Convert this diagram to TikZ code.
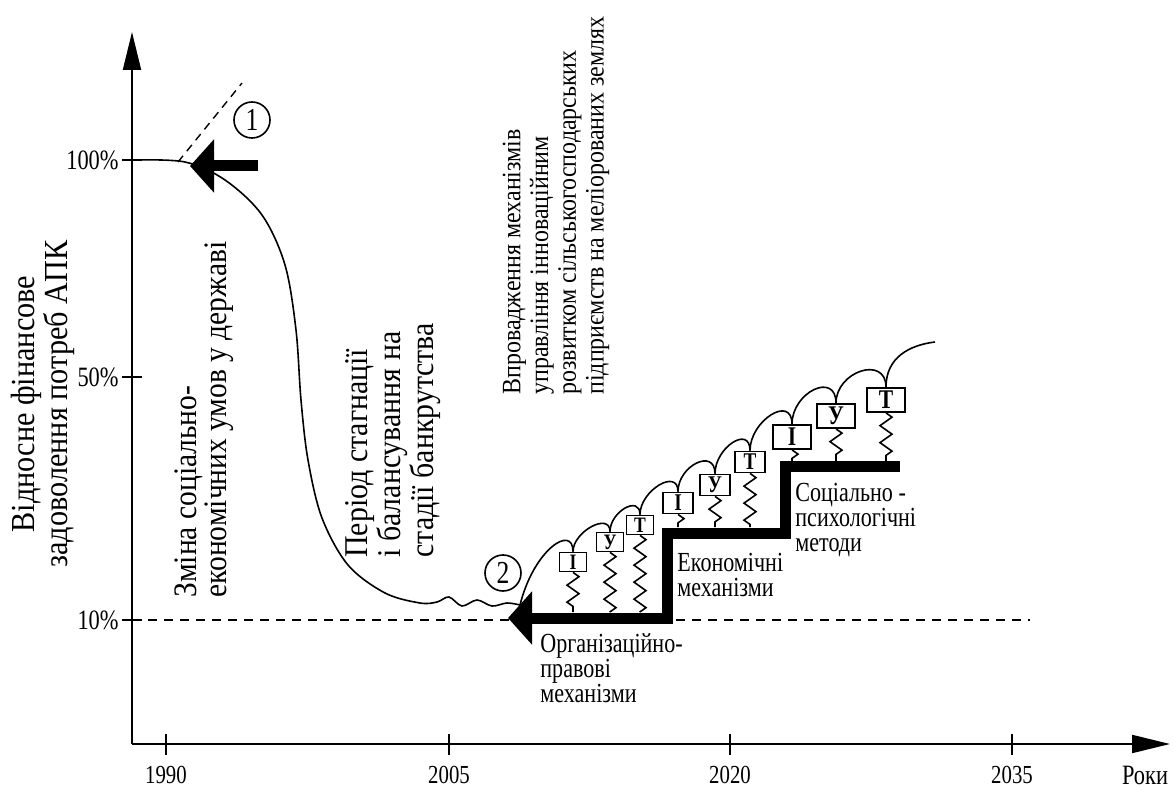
\documentclass[tikz,border=0pt]{standalone}
\usepackage{fontspec}
\setmainfont{Liberation Serif}
\newfontfamily\narrowfont[FakeStretch=0.8]{Liberation Serif}
\newfontfamily\upfont[FakeStretch=0.9]{Liberation Serif}
\usetikzlibrary{arrows.meta,decorations.pathmorphing}

\tikzset{
  axis/.style={line width=1pt, -{Triangle[length=19pt,width=9pt]}},
  bar/.style={line width=5.5pt, -{Triangle[length=12pt,width=26pt]}},
  curve/.style={line width=0.8pt},
  tbox/.style={draw, fill=white, line width=0.9pt, inner sep=0pt},
  smallbox/.style={tbox, minimum width=13.5pt, minimum height=9.5pt, font=\narrowfont\bfseries\fontsize{11}{11}\selectfont},
  midbox/.style={tbox, minimum width=15pt, minimum height=10.5pt, font=\narrowfont\bfseries\fontsize{12}{12}\selectfont},
  bigbox/.style={tbox, minimum width=19pt, minimum height=12pt, font=\narrowfont\bfseries\fontsize{13.5}{13.5}\selectfont},
  spring/.style={decorate, decoration={zigzag, segment length=8.5pt, amplitude=3pt}, line width=0.8pt},
  vtext/.style={rotate=90, anchor=west, align=left, inner sep=0pt},
  htext/.style={anchor=north west, align=left, inner sep=0pt, font=\narrowfont\fontsize{13.8}{12.5}\selectfont},
  num/.style={circle, draw, line width=0.8pt, minimum size=18pt, inner sep=0pt, font=\narrowfont\fontsize{16}{16}\selectfont},
}

\begin{document}
\begin{tikzpicture}[x=50pt,y=50pt]
\useasboundingbox (-1.32,-0.45) rectangle (10.43,7.44);

% axes
\draw[axis] (0,0) -- (10.38,0);
\draw[axis] (0,0) -- (0,7.12);
\node[font=\narrowfont\fontsize{14}{14}\selectfont] (roky) at (10.13,-0.31) {Роки};
\node[rotate=90, align=center, font=\upfont\fontsize{16.8}{15}\selectfont] (ylab) at (-0.89,3.40)
  {Відносне фінансове\\задоволення потреб АПК};

% ticks
\foreach \x/\yr in {0.34/1990, 3.17/2005, 5.98/2020, 8.80/2035} {
  \draw[line width=0.7pt] (\x,0.1) -- (\x,-0.11);
  \node[font=\narrowfont\fontsize{13}{13}\selectfont] (t\yr) at (\x,-0.31) {\yr};
}
\foreach \y/\p in {5.84/100, 3.67/50, 1.24/10} {
  \draw[line width=0.7pt] (-0.1,\y) -- (0.1,\y);
  \node[anchor=east, inner sep=0pt, font=\narrowfont\fontsize{14}{14}\selectfont] (p\p) at (-0.13,\y) {\p\%};
}

% 10% level
\draw[line width=0.7pt, dash pattern=on 4.5pt off 3.5pt] (0,1.24) -- (8.98,1.24);

% fall of the curve
\draw[curve] plot[smooth, tension=0.55] coordinates {(0,5.84) (0.53,5.82) (0.93,5.64) (1.30,5.29)
  (1.53,4.79) (1.64,4.14) (1.69,3.44) (1.76,2.84) (1.90,2.26) (2.16,1.79) (2.53,1.51) (2.88,1.41)
  (3.05,1.42) (3.17,1.47) (3.30,1.38) (3.45,1.44) (3.60,1.38) (3.75,1.41) (3.88,1.39)};

% point 1
\draw[line width=0.7pt, dash pattern=on 4pt off 3pt] (0.46,5.82) -- (1.10,6.61);
\coordinate (drop) at (0.58,5.78);
\coordinate (arr1) at (1.26,5.78);
\draw[bar] (arr1) -- (drop);
\node[num] (n1) at (1.20,6.24) {1};

% steps
\coordinate (s0) at (7.68,2.77);
\coordinate (s1) at (6.53,2.77);
\coordinate (s2) at (6.53,2.11);
\coordinate (s3) at (5.35,2.11);
\coordinate (s4) at (5.35,1.26);
\coordinate (s5) at (3.76,1.26);
\draw[bar] (s0) -- (s1) -- (s2) -- (s3) -- (s4) -- (s5);
\node[num] (n2) at (3.71,1.71) {2};

% boxes
\node[smallbox] (b1) at (4.41,1.82) {І};
\node[smallbox] (b2) at (4.78,2.02) {У};
\node[smallbox] (b3) at (5.08,2.19) {Т};
\node[midbox] (b4) at (5.46,2.41) {І};
\node[midbox] (b5) at (5.83,2.59) {У};
\node[midbox] (b6) at (6.18,2.82) {Т};
\node[bigbox] (b7) at (6.60,3.07) {І};
\node[bigbox] (b8) at (7.04,3.28) {У};
\node[bigbox] (b9) at (7.54,3.44) {Т};

% springs
\foreach \b/\s in {b1/1.32, b2/1.32, b3/1.32, b4/2.17, b5/2.17, b6/2.17, b7/2.83, b8/2.83, b9/2.83}
  \draw[spring] (\b.south) -- (\b.south |- 0,\s);

% humps
\draw[curve] (3.88,1.39) .. controls (4.02,1.95) and (4.41,2.2) .. (b1.north);
\foreach \a/\b/\h in {b1/b2/0.2, b2/b3/0.2, b3/b4/0.24, b4/b5/0.26, b5/b6/0.26, b6/b7/0.3, b7/b8/0.32, b8/b9/0.32}
  \draw[curve] (\a.north) .. controls +(0,\h) and +(0,\h) .. (\b.north);
\coordinate (tail) at (8.03,4.02);
\draw[curve] (b9.north) .. controls +(0,0.3) and +(-0.25,-0.03) .. (tail);

% texts
\node[vtext, font=\upfont\fontsize{16.4}{14}\selectfont] (change) at (0.72,1.46) {Зміна соціально-\\економічних умов у державі};
\node[vtext, font=\upfont\fontsize{16.6}{14}\selectfont] (stag) at (2.61,1.86) {Період стагнації\\і балансування на\\стадії банкрутства};
\node[vtext, font=\upfont\fontsize{13.3}{13.9}\selectfont] (impl) at (4.24,3.49) {Впровадження механізмів\\управління інноваційним\\розвитком сільськогосподарських\\підприємств на меліорованих землях};
\node[htext] (org) at (4.08,1.11) {Організаційно-\\правові\\механізми};
\node[htext] (econ) at (5.45,1.91) {Економічні\\механізми};
\node[htext] (soc) at (6.63,2.61) {Соціально -\\психологічні\\методи};
\end{tikzpicture}
\end{document}
